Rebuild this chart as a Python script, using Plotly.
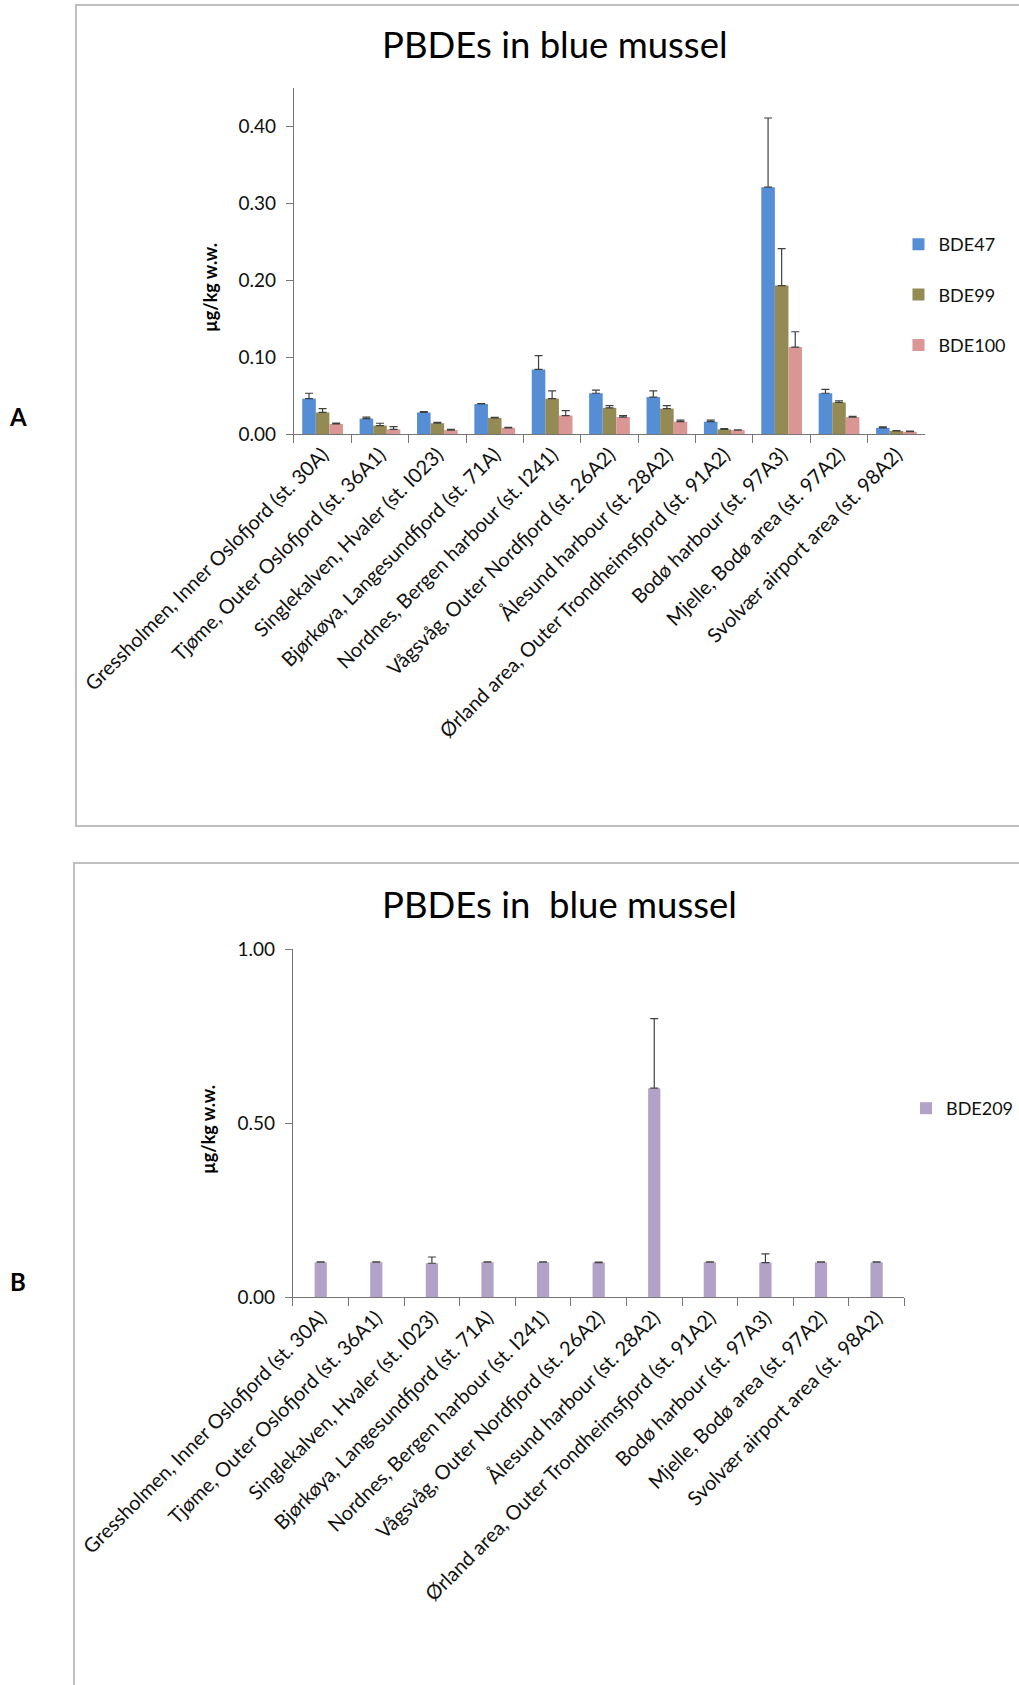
import plotly.graph_objects as go

# Stations (x categories), shared by both panels
stations = [
    "Gressholmen, Inner Oslofjord (st. 30A)",
    "Tjøme, Outer Oslofjord (st. 36A1)",
    "Singlekalven, Hvaler (st. I023)",
    "Bjørkøya, Langesundfjord (st. 71A)",
    "Nordnes, Bergen harbour (st. I241)",
    "Vågsvåg, Outer Nordfjord (st. 26A2)",
    "Ålesund harbour (st. 28A2)",
    "Ørland area, Outer Trondheimsfjord (st. 91A2)",
    "Bodø harbour (st. 97A3)",
    "Mjelle, Bodø area (st. 97A2)",
    "Svolvær airport area (st. 98A2)",
]

# Panel A: mean concentrations (µg/kg w.w.) and upper standard deviations
bde47 = [0.046, 0.020, 0.028, 0.039, 0.084, 0.053, 0.048, 0.016, 0.321, 0.053, 0.008]
bde47_sd = [0.007, 0.002, 0.001, 0.0005, 0.018, 0.004, 0.008, 0.002, 0.090, 0.005, 0.0013]
bde99 = [0.028, 0.011, 0.014, 0.021, 0.046, 0.034, 0.033, 0.006, 0.193, 0.041, 0.004]
bde99_sd = [0.005, 0.003, 0.001, 0.0005, 0.010, 0.003, 0.004, 0.001, 0.048, 0.002, 0.0005]
bde100 = [0.013, 0.006, 0.005, 0.008, 0.024, 0.022, 0.016, 0.005, 0.113, 0.022, 0.003]
bde100_sd = [0.0013, 0.0035, 0.001, 0.0005, 0.0065, 0.002, 0.002, 0.0005, 0.020, 0.001, 0.0008]

# Panel B: BDE209
bde209 = [0.10, 0.10, 0.097, 0.10, 0.10, 0.099, 0.60, 0.10, 0.099, 0.10, 0.10]
bde209_sd = [0.001, 0.001, 0.018, 0.001, 0.001, 0.001, 0.20, 0.001, 0.025, 0.001, 0.001]

W, H = 1019, 1685
FONT = "Lato"
AXIS_COL = "#767676"
ERR_COL = "#404040"


def px(x):
    return x / W


def py(y):
    return 1 - y / H


def err(sd):
    return dict(type="data", symmetric=False, array=sd, arrayminus=[0] * len(sd),
                color=ERR_COL, thickness=1.2, width=4)


fig = go.Figure()

series_a = [
    ("BDE47", bde47, bde47_sd, "#558ED5"),
    ("BDE99", bde99, bde99_sd, "#948A54"),
    ("BDE100", bde100, bde100_sd, "#D99694"),
]
for name, vals, sd, col in series_a:
    fig.add_trace(go.Bar(
        x=stations, y=vals, name=name, marker=dict(color=col, line=dict(width=0)),
        error_y=err(sd), xaxis="x", yaxis="y", legend="legend", legendgroup=name,
    ))

fig.add_trace(go.Bar(
    x=stations, y=bde209, name="BDE209", marker=dict(color="#B3A2C7", line=dict(width=0)),
    error_y=err(bde209_sd), xaxis="x2", yaxis="y2", legend="legend2", width=0.22,
))

xaxis_common = dict(
    type="category", showline=True, linecolor=AXIS_COL, linewidth=1.2,
    ticks="outside", tickson="boundaries", ticklen=8, tickcolor=AXIS_COL,
    tickangle=-45, tickfont=dict(family=FONT, size=20, color="#111"),
    showgrid=False, automargin=False, zeroline=False,
)
yaxis_common = dict(
    showline=True, linecolor=AXIS_COL, linewidth=1.2, ticks="outside", ticklen=7,
    tickcolor=AXIS_COL, tickformat=".2f", showgrid=False, zeroline=False,
    tickfont=dict(family=FONT, size=19, color="#111"), automargin=False,
    ticklabelstandoff=6,
)

legend_font = dict(family=FONT, size=18, color="#111")
ytitle_font = dict(family=FONT, size=18, color="#000", weight="bold")

fig.update_layout(
    width=W, height=H, margin=dict(l=0, r=0, t=0, b=0),
    paper_bgcolor="white", plot_bgcolor="white",
    barmode="group", bargap=0.29, bargroupgap=0,
    font=dict(family=FONT, color="#111"),
    xaxis=dict(domain=[px(298), px(938)], anchor="y", **xaxis_common),
    yaxis=dict(domain=[py(434), py(88)], anchor="x", range=[0, 0.45], dtick=0.1, **yaxis_common),
    xaxis2=dict(domain=[px(297), px(917)], anchor="y2", **xaxis_common),
    yaxis2=dict(domain=[py(1297), py(949)], anchor="x2", range=[0, 1.0], dtick=0.5, **yaxis_common),
    legend=dict(x=px(911), y=py(226), xanchor="left", yanchor="top",
                font=legend_font, bgcolor="rgba(0,0,0,0)", tracegroupgap=24),
    legend2=dict(x=px(919), y=py(1090), xanchor="left", yanchor="top",
                 font=legend_font, bgcolor="rgba(0,0,0,0)"),
    showlegend=True,
    shapes=[
        dict(type="rect", xref="paper", yref="paper", x0=px(77), x1=1.02, y0=py(826), y1=py(5),
             line=dict(color="#BFBFBF", width=2), fillcolor="rgba(0,0,0,0)", layer="below"),
        dict(type="rect", xref="paper", yref="paper", x0=px(75), x1=1.02, y0=-0.02, y1=py(863),
             line=dict(color="#BFBFBF", width=2), fillcolor="rgba(0,0,0,0)", layer="below"),
    ],
    annotations=[
        dict(text="PBDEs in blue mussel", x=px(563), y=py(44), xref="paper", yref="paper",
             xanchor="center", yanchor="middle", showarrow=False,
             font=dict(family=FONT, size=36.5, color="#000")),
        dict(text="PBDEs in\u00a0 blue mussel", x=px(567), y=py(904), xref="paper", yref="paper",
             xanchor="center", yanchor="middle", showarrow=False,
             font=dict(family=FONT, size=36.5, color="#000")),
        dict(text="µg/kg w.w.", x=px(213), y=py(288), xref="paper", yref="paper",
             xanchor="center", yanchor="middle", textangle=-90, showarrow=False,
             font=ytitle_font),
        dict(text="µg/kg w.w.", x=px(211), y=py(1130), xref="paper", yref="paper",
             xanchor="center", yanchor="middle", textangle=-90, showarrow=False,
             font=ytitle_font),
        dict(text="<b>A</b>", x=px(18), y=py(416), xref="paper", yref="paper",
             xanchor="center", yanchor="middle", showarrow=False,
             font=dict(family=FONT, size=24, color="#000")),
        dict(text="<b>B</b>", x=px(18), y=py(1281), xref="paper", yref="paper",
             xanchor="center", yanchor="middle", showarrow=False,
             font=dict(family=FONT, size=24, color="#000")),
    ],
)

fig.write_html("out.html")
